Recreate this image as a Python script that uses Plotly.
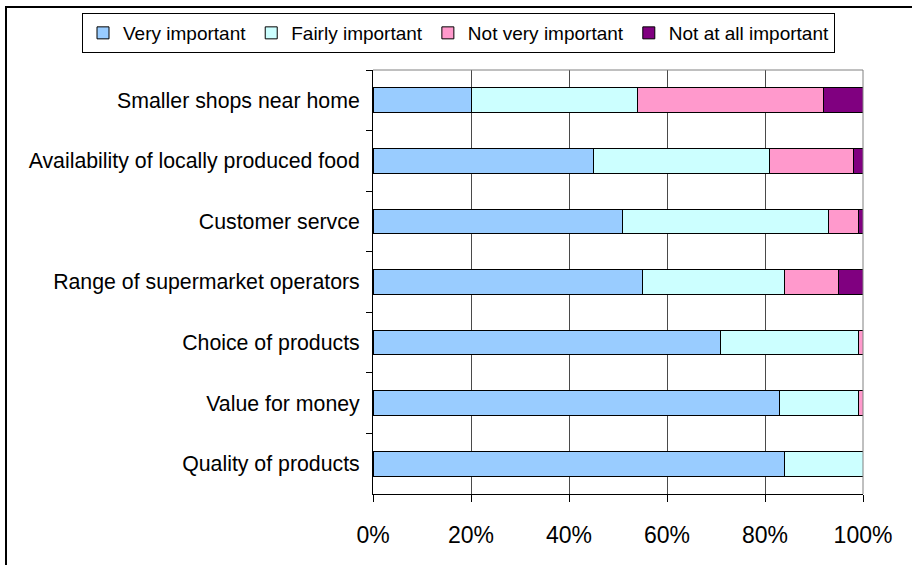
import plotly.graph_objects as go

# Survey: importance of factors when choosing where to shop (percent of respondents)
factors = [
    "Smaller shops near home",
    "Availability of locally produced food",
    "Customer servce",
    "Range of supermarket operators",
    "Choice of products",
    "Value for money",
    "Quality of products",
]
very_important = [20, 45, 51, 55, 71, 83, 84]
fairly_important = [34, 36, 42, 29, 28, 16, 16]
not_very_important = [38, 17, 6, 11, 1, 1, 0]
not_at_all_important = [8, 2, 1, 5, 0, 0, 0]

series_names = ["Very important", "Fairly important", "Not very important", "Not at all important"]
series_values = [very_important, fairly_important, not_very_important, not_at_all_important]
series_colors = ["#99CCFF", "#CCFFFF", "#FF99CC", "#800080"]

W, H = 912, 565
ML, MR, MT, MB = 373, 49, 70, 71
PW, PH = W - ML - MR, H - MT - MB


def px_x(p):
    return (p - ML) / PW


def px_y(p):
    return 1 - (p - MT) / PH


FONT = "Liberation Sans, Arial, sans-serif"

fig = go.Figure()
for name, vals, col in zip(series_names, series_values, series_colors):
    fig.add_trace(go.Bar(
        y=factors, x=vals, name=name, orientation="h",
        marker=dict(color=col, line=dict(color="#000000", width=1)),
    ))

fig.update_layout(
    width=W, height=H, autosize=False,
    margin=dict(l=ML, r=MR, t=MT, b=MB, pad=0, autoexpand=False),
    paper_bgcolor="white", plot_bgcolor="white",
    barmode="stack", bargap=0.59,
    font=dict(family=FONT, color="#000000"),
    legend=dict(
        orientation="h", traceorder="normal",
        x=px_x(82), xanchor="left", y=px_y(13), yanchor="top",
        bgcolor="white", bordercolor="#000000", borderwidth=1,
        font=dict(size=19, family=FONT, color="#000000"),
        itemwidth=30, itemclick=False,
    ),
    showlegend=True,
)

fig.update_xaxes(
    range=[0, 100], dtick=20, tick0=0, ticksuffix="%",
    showgrid=True, gridcolor="#4a4a4a", gridwidth=1,
    showline=True, linecolor="#000000", linewidth=1,
    ticks="outside", ticklen=7, tickcolor="#000000", tickwidth=1,
    tickfont=dict(size=23, family=FONT, color="#000000"),
    ticklabelstandoff=13, zeroline=False, fixedrange=True,
)
fig.update_yaxes(
    autorange="reversed", tickson="boundaries",
    showgrid=False, showline=True, linecolor="#000000", linewidth=1,
    ticks="outside", ticklen=6, tickcolor="#000000", tickwidth=1,
    tickfont=dict(size=21.3, family=FONT, color="#000000"),
    ticklabelstandoff=8, fixedrange=True,
)

# Grey border along the top and right of the plot area
fig.add_shape(type="line", xref="paper", yref="paper", x0=0, x1=1, y0=1, y1=1,
              line=dict(color="#808080", width=1))
fig.add_shape(type="line", xref="paper", yref="paper", x0=1, x1=1, y0=0, y1=1,
              line=dict(color="#808080", width=1))
# Outer chart frame
fig.add_shape(type="rect", xref="paper", yref="paper",
              x0=px_x(6), x1=px_x(W + 20), y0=px_y(H + 20), y1=px_y(7),
              line=dict(color="#000000", width=2), fillcolor="rgba(0,0,0,0)", layer="below")

fig.write_html("out.html")
